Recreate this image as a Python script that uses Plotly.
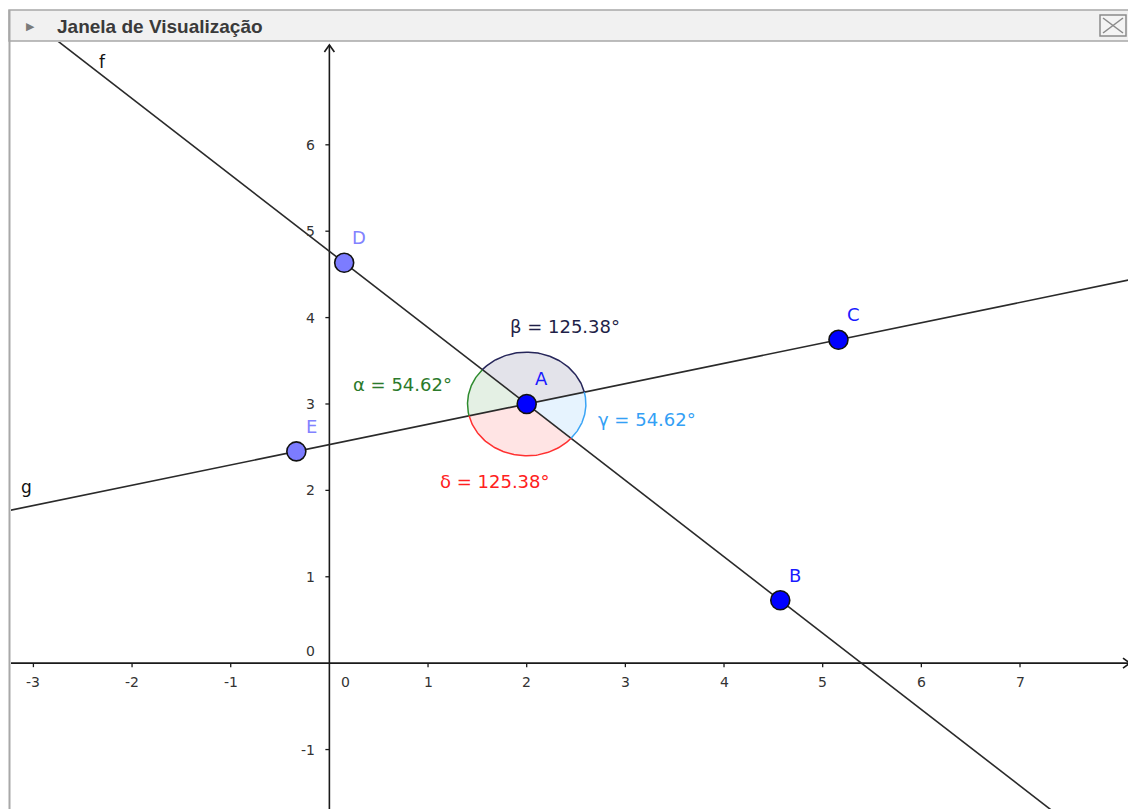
import math
import plotly.graph_objects as go

# ---------------- data ----------------
point_names = ["A", "B", "C", "D", "E"]
point_x = [2.0, 4.57, 5.16, 0.15, -0.335]
point_y = [3.0, 0.728, 3.743, 4.635, 2.451]

line_names = ["f", "g"]
line_point_pairs = [["D", "B"], ["E", "C"]]
line_label_x = [-2.3, -3.07]

angle_vertex = "A"
angle_names = ["α", "β", "γ", "δ"]
angle_values = [54.62, 125.38, 54.62, 125.38]
angle_arms = [["D", "E"], ["C", "D"], ["B", "C"], ["E", "B"]]
angle_radius = 0.6

x_ticks = [-3, -2, -1, 0, 1, 2, 3, 4, 5, 6, 7]
y_ticks = [-1, 0, 1, 2, 3, 4, 5, 6]

# ---------------- layout / style ----------------
OFF = 8  # page body margin offset of the figure
W, H = 1136 - OFF, 809 - OFF
ML, MR, MT, MB = 3, 5, 34, 0
PW, PH = W - ML - MR, H - MT - MB
x_range = [-3.227, 8.125]
y_range = [-1.688, 7.19]

FONT = "DejaVu Sans, Verdana, sans-serif"
point_style = {
    "A": ("#0000ff", "#1a1aff"), "B": ("#0000ff", "#1a1aff"), "C": ("#0000ff", "#1a1aff"),
    "D": ("#7c7cff", "#8282ff"), "E": ("#7c7cff", "#8282ff"),
}
angle_style = {
    "α": ("#2e8b2e", "#2b7a2b", (-124, 19)),
    "β": ("#26265a", "#1f1f48", (38, 77)),
    "γ": ("#3aa4f5", "#33a0f5", (120, -16)),
    "δ": ("#ff3030", "#ff2020", (-32, -78)),
}


def ux(px):  # pixel length -> data length (x)
    return px * (x_range[1] - x_range[0]) / PW


def uy(px):  # pixel length -> data length (y)
    return px * (y_range[1] - y_range[0]) / PH


def rgba(hexc, a):
    h = hexc.lstrip("#")
    return "rgba(%d,%d,%d,%.3f)" % (int(h[0:2], 16), int(h[2:4], 16), int(h[4:6], 16), a)


P = {n: (x, y) for n, x, y in zip(point_names, point_x, point_y)}
fig = go.Figure()

# ---- angle sector fills ----
ax0, ay0 = P[angle_vertex]
arcs = []
for name, (p1, p2) in zip(angle_names, angle_arms):
    t1 = math.atan2(P[p1][1] - ay0, P[p1][0] - ax0)
    t2 = math.atan2(P[p2][1] - ay0, P[p2][0] - ax0)
    while t2 <= t1:
        t2 += 2 * math.pi
    n = 80
    ts = [t1 + (t2 - t1) * i / n for i in range(n + 1)]
    xs = [ax0 + angle_radius * math.cos(t) for t in ts]
    ys = [ay0 + angle_radius * math.sin(t) for t in ts]
    arcs.append((name, xs, ys))
    lc = angle_style[name][0]
    fig.add_trace(go.Scatter(x=[ax0] + xs + [ax0], y=[ay0] + ys + [ay0], mode="lines",
                             fill="toself", fillcolor=rgba(lc, 0.13),
                             line=dict(width=0), hoverinfo="skip", showlegend=False))

# ---- axes (crossing at origin) ----
tip_x = x_range[1] - ux(1)
tip_y = y_range[1] - uy(3)
axis_style = dict(color="#1a1a1a", width=1.6)
fig.add_trace(go.Scatter(x=[x_range[0], tip_x], y=[0, 0], mode="lines", line=axis_style,
                         hoverinfo="skip", showlegend=False))
fig.add_trace(go.Scatter(x=[0, 0], y=[y_range[0], tip_y], mode="lines", line=axis_style,
                         hoverinfo="skip", showlegend=False))
# arrowheads
fig.add_trace(go.Scatter(x=[tip_x - ux(7), tip_x, tip_x - ux(7)], y=[uy(5), 0, -uy(5)],
                         mode="lines", line=axis_style, hoverinfo="skip", showlegend=False))
fig.add_trace(go.Scatter(x=[-ux(5), 0, ux(5)], y=[tip_y - uy(7), tip_y, tip_y - uy(7)],
                         mode="lines", line=axis_style, hoverinfo="skip", showlegend=False))
# tick marks
tx, ty = [], []
for k in x_ticks:
    if k == 0:
        continue
    tx += [k, k, None]
    ty += [0, -uy(4), None]
for k in y_ticks:
    if k == 0:
        continue
    tx += [0, -ux(4), None]
    ty += [k, k, None]
fig.add_trace(go.Scatter(x=tx, y=ty, mode="lines", line=dict(color="#1a1a1a", width=1.3),
                         hoverinfo="skip", showlegend=False))

# ---- lines f, g ----
ext = 20
for name, (p1, p2) in zip(line_names, line_point_pairs):
    (x1, y1), (x2, y2) = P[p1], P[p2]
    m = (y2 - y1) / (x2 - x1)
    xa, xb = x1 - ext, x1 + ext
    fig.add_trace(go.Scatter(x=[xa, xb], y=[y1 + m * (xa - x1), y1 + m * (xb - x1)],
                             mode="lines", line=dict(color="#2a2a2a", width=1.6),
                             hoverinfo="skip", showlegend=False))

# ---- arc outlines ----
for name, xs, ys in arcs:
    fig.add_trace(go.Scatter(x=xs, y=ys, mode="lines",
                             line=dict(color=angle_style[name][0], width=1.5),
                             hoverinfo="skip", showlegend=False))

# ---- points ----
fig.add_trace(go.Scatter(x=point_x, y=point_y, mode="markers",
                         marker=dict(size=19, color=[point_style[n][0] for n in point_names],
                                     line=dict(color="#111111", width=1.6)),
                         text=point_names, hoverinfo="text", showlegend=False))

ann = []
# point labels
for n, x, y in zip(point_names, point_x, point_y):
    ann.append(dict(x=x, y=y, xref="x", yref="y", text=n, showarrow=False,
                    xshift=15, yshift=25, font=dict(family=FONT, size=18, color=point_style[n][1])))
# angle labels
for name, val in zip(angle_names, angle_values):
    lc, tc, (sx, sy) = angle_style[name]
    ann.append(dict(x=ax0, y=ay0, xref="x", yref="y", text="%s = %.2f°" % (name, val),
                    showarrow=False, xshift=sx, yshift=sy,
                    font=dict(family=FONT, size=18, color=tc)))
# line labels
for name, (p1, p2), lx in zip(line_names, line_point_pairs, line_label_x):
    (x1, y1), (x2, y2) = P[p1], P[p2]
    m = (y2 - y1) / (x2 - x1)
    shift = (0, 14) if m < 0 else (0, 20)
    ann.append(dict(x=lx, y=y1 + m * (lx - x1), xref="x", yref="y", text=name, showarrow=False,
                    xshift=shift[0], yshift=shift[1], font=dict(family=FONT, size=17, color="#111111")))
# tick labels
for k in x_ticks:
    ann.append(dict(x=k, y=0, xref="x", yref="y", text=str(k), showarrow=False,
                    xshift=16 if k == 0 else 0, yshift=-19,
                    font=dict(family=FONT, size=14, color="#333333")))
for k in y_ticks:
    ann.append(dict(x=0, y=k, xref="x", yref="y", text=str(k), showarrow=False,
                    xanchor="right", xshift=-12, yshift=12 if k == 0 else 0,
                    font=dict(family=FONT, size=14, color="#333333")))


# ---- window chrome (paper coords, given in page pixels) ----
def pxx(px):
    return (px - OFF - ML) / PW


def pxy(py):
    return (H - MB - (py - OFF)) / PH


shapes = [
    dict(type="rect", xref="paper", yref="paper", x0=pxx(9), x1=pxx(1132), y0=pxy(41), y1=pxy(10),
         fillcolor="#f1f1f1", line=dict(color="#a8a8a8", width=1.5), layer="above"),
    dict(type="line", xref="paper", yref="paper", x0=pxx(9.5), x1=pxx(9.5), y0=pxy(10), y1=pxy(812),
         line=dict(color="#a8a8a8", width=2), layer="above"),
    dict(type="line", xref="paper", yref="paper", x0=pxx(1132), x1=pxx(1132), y0=pxy(10), y1=pxy(812),
         line=dict(color="#a8a8a8", width=3), layer="above"),
    dict(type="rect", xref="paper", yref="paper", x0=pxx(1100), x1=pxx(1126), y0=pxy(36), y1=pxy(15),
         fillcolor="#f4f4f4", line=dict(color="#8a8a8a", width=1.5), layer="above"),
    dict(type="line", xref="paper", yref="paper", x0=pxx(1103), x1=pxx(1123), y0=pxy(33), y1=pxy(18),
         line=dict(color="#8a8a8a", width=1.5), layer="above"),
    dict(type="line", xref="paper", yref="paper", x0=pxx(1103), x1=pxx(1123), y0=pxy(18), y1=pxy(33),
         line=dict(color="#8a8a8a", width=1.5), layer="above"),
]
ann.append(dict(xref="paper", yref="paper", x=pxx(55), y=pxy(26), xanchor="left", yanchor="middle",
                text="<b>Janela de Visualização</b>", showarrow=False,
                font=dict(family="Liberation Sans, Arial, sans-serif", size=19, color="#3a3a3a")))
ann.append(dict(xref="paper", yref="paper", x=pxx(30), y=pxy(26), xanchor="center", yanchor="middle",
                text="▶", showarrow=False, font=dict(family=FONT, size=11, color="#7a7a7a")))

fig.update_layout(
    width=W, height=H, margin=dict(l=ML, r=MR, t=MT, b=MB, pad=0),
    paper_bgcolor="white", plot_bgcolor="white",
    xaxis=dict(range=x_range, visible=False, fixedrange=True),
    yaxis=dict(range=y_range, visible=False, fixedrange=True),
    shapes=shapes, annotations=ann, showlegend=False,
)
fig.write_html("out.html")
